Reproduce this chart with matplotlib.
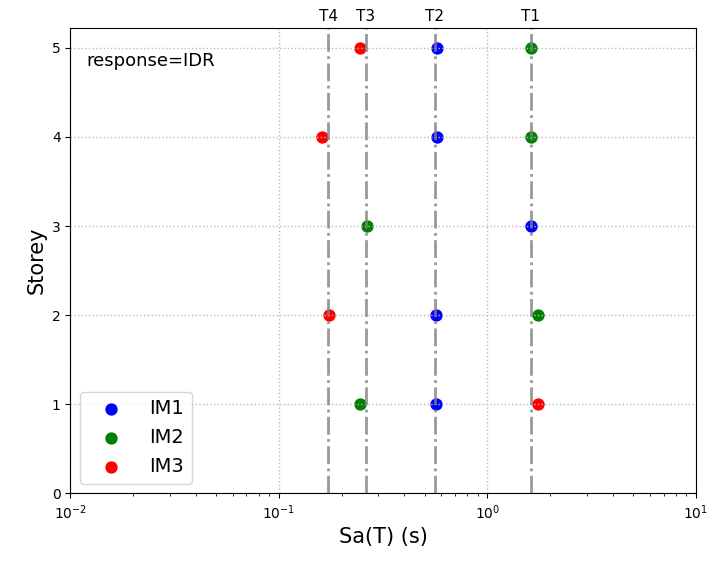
import numpy as np
import matplotlib
matplotlib.use("Agg")
import matplotlib.pyplot as plt
import matplotlib.transforms as mtrans

storeys = [1, 2, 3, 4, 5]
im1 = [0.57, 0.57, 1.62, 0.574, 0.574]
im2 = [0.245, 1.755, 0.265, 1.62, 1.62]
im3 = [1.755, 0.174, np.nan, 0.161, 0.245]

periods = [1.62, 0.561, 0.262, 0.1723]
period_names = ["T1", "T2", "T3", "T4"]

fig = plt.figure(figsize=(7.1, 5.65), dpi=100)
ax = fig.add_axes([0.099, 0.127, 0.881, 0.823])

# default zorder: grid and period lines end up drawn on top of the dots
ax.scatter(im1, storeys, c='blue', s=62, label='IM1')
ax.scatter(im2, storeys, c='green', s=62, label='IM2')
ax.scatter(im3, storeys, c='red', s=62, label='IM3')

tr = mtrans.blended_transform_factory(ax.transData, ax.transAxes)
for p, nm in zip(periods, period_names):
    ax.axvline(p, color='gray', linestyle='-.', linewidth=2, alpha=0.8)
    ax.text(p, 1.01, nm, transform=tr, ha='center', va='bottom', fontsize=11)

ax.set_xscale('log')
ax.set_xlim(1e-2, 1e1)
ax.set_ylim(0, 5.22)
ax.set_yticks([0, 1, 2, 3, 4, 5])
ax.grid(True, which='major', linestyle=':', color='#bbbbbb', linewidth=1)
ax.set_xlabel('Sa(T) (s)', fontsize=15)
ax.set_ylabel('Storey', fontsize=15)
ax.text(0.026, 0.93, 'response=IDR', transform=ax.transAxes, fontsize=13, va='center')
ax.legend(loc='lower left', fontsize=14, handlelength=2.4, handletextpad=0.75)

fig.savefig('out.png')
